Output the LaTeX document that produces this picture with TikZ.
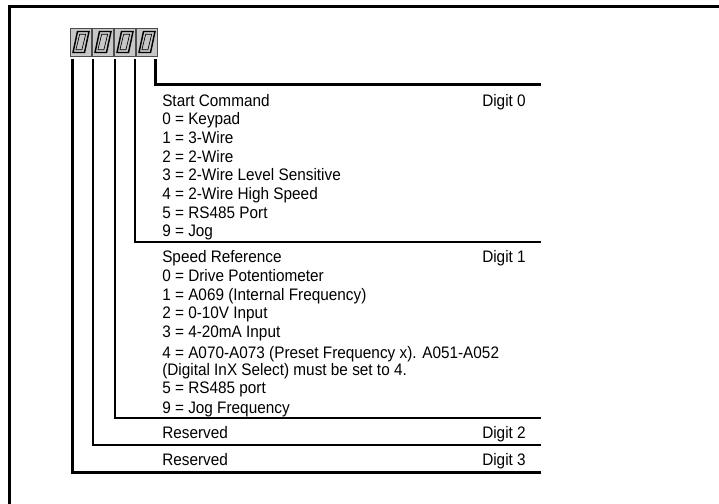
\documentclass[tikz,border=0pt]{standalone}
\usepackage{fontspec}
\setmainfont{Liberation Sans}[FakeStretch=0.92]
\usepackage{tikz}
\usetikzlibrary{positioning,calc}

\begin{document}
\begin{tikzpicture}[
    x=0.75pt, y=-0.75pt,
    digbox/.style={rectangle, draw=black!70, fill=black!22, line width=0.6pt, inner sep=0pt, outer sep=0pt, minimum width=15.75pt, minimum height=21pt},
    txt/.style={inner sep=0pt, font=\fontsize{12.5}{15}\selectfont},
    thk/.style={line width=2.25pt},
    thn/.style={line width=0.9pt}
]
    \useasboundingbox (0,0) rectangle (719,504);
    % outer frame
    \draw [line width=2.4pt] (9.5,504) |- (719,6.5);

    % display
    \node [digbox] (d3) at (80.5,42) {};
    \node [digbox] (d2) at (102.5,42) {};
    \node [digbox] (d1) at (124.5,42) {};
    \node [digbox] (d0) at (146.5,42) {};
    \foreach \d in {d0,d1,d2,d3} {
        \begin{scope}[shift={(\d.center)}]
            \draw [line width=1.1pt, line join=miter] (-7.5,10.5) -- (4,10.5) -- (8.5,-10.5) -- (-3,-10.5) -- cycle;
            \draw [line width=0.5pt] (-4.6,7.8) -- (1.4,7.8) -- (5.2,-7.8) -- (-0.8,-7.8) -- cycle;
        \end{scope}
    }

    % line ends
    \coordinate (etop) at (541,84.5);
    \coordinate (e0) at (541,242);
    \coordinate (e1) at (541,418);
    \coordinate (e2) at (541,445);
    \coordinate (e3) at (541,472);

    \draw [thk] (d0.south east) ++(-2,3) |- (etop);
    \draw [thn] (d0.south west) ++(-1,3) |- (e0);
    \draw [thn] (d1.south west) ++(1,3) |- (e1);
    \draw [thn] (d2.south west) ++(1,3) |- (e2);
    \draw [thk] (d3.south west) ++(2,3) |- (e3);

    % digit 0
    \foreach \y/\t [count=\k] in {106/Start Command, 124.7/0 = Keypad, 143.4/1 = 3-Wire,
        162.1/2 = 2-Wire, 180.8/3 = 2-Wire Level Sensitive, 199.5/4 = 2-Wire High Speed,
        218.2/5 = RS485 Port, 236.9/9 = Jog}
        \node [txt, anchor=base west] (sc\k) at (162,\y) {\t};
    \node [txt, anchor=base east] (g0) at (526,106) {Digit 0};

    % digit 1
    \foreach \y/\t [count=\k] in {262/Speed Reference, 281/0 = Drive Potentiometer,
        300.5/{1 = A069 (Internal Frequency)}, 318.5/2 = 0-10V Input, 337/3 = 4-20mA Input,
        358/{4 = A070-A073 (Preset Frequency x). A051-A052},
        375.5/{(Digital InX Select) must be set to 4.}, 393.5/5 = RS485 port,
        413.5/9 = Jog Frequency}
        \node [txt, anchor=base west] (sr\k) at (162,\y) {\t};
    \node [txt, anchor=base east] (g1) at (526,262) {Digit 1};

    % digits 2 and 3
    \node [txt, anchor=base west] (r2) at (162,438.5) {Reserved};
    \node [txt, anchor=base east] (g2) at (526,438.5) {Digit 2};
    \node [txt, anchor=base west] (r3) at (162,465.5) {Reserved};
    \node [txt, anchor=base east] (g3) at (526,465.5) {Digit 3};
\end{tikzpicture}
\end{document}
